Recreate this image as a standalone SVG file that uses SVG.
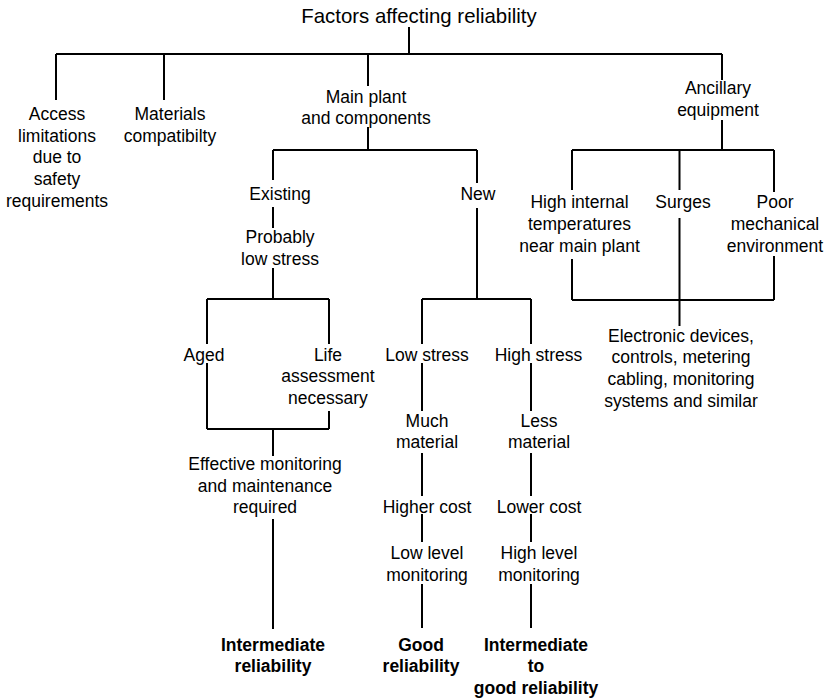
<svg xmlns="http://www.w3.org/2000/svg" width="829" height="699" viewBox="0 0 829 699">
<style>
text{font-family:"Liberation Sans",Arial,sans-serif;font-size:17.5px;fill:#000;text-anchor:middle}
.t{font-size:20.4px}
.b{font-weight:bold}
#connectors path{stroke:#000;stroke-width:2;fill:none}
</style>
<rect width="829" height="699" fill="#fff"/>
<g id="connectors">
<path d="M409,27V54M56,54H722M56,54V100M164,54V100M368,54V86M722,54V80"/>
<path d="M368,127V150M273,150H477M273,150V180M477,150V183"/>
<path d="M273,207V228M273,268V299M207,299H329M207,299V344M329,299V344"/>
<path d="M207,363V429M329,411V429M207,429H329M273,429V456M273,519V629"/>
<path d="M477,208V299M422,299H531M422,299V344M531,299V344"/>
<path d="M422,363V411M531,363V411M422,453V496M531,453V496M422,514V542M531,514V542M422,584V628M531,584V628"/>
<path d="M722,120V150M572,150H774M572,150V190M679.5,150V190M774,150V192M679.5,218V326M572,259V300M774,256V300M572,300H774"/>
</g>
<g id="title"><text class="t" x="419" y="23">Factors affecting reliability</text></g>
<g id="access"><text x="57"><tspan x="57" y="120">Access</tspan><tspan x="57" y="141.7">limitations</tspan><tspan x="57" y="163.3">due to</tspan><tspan x="57" y="185">safety</tspan><tspan x="57" y="206.7">requirements</tspan></text></g>
<g id="materials"><text><tspan x="170" y="120">Materials</tspan><tspan x="170" y="141.7">compatibilty</tspan></text></g>
<g id="main"><text><tspan x="366" y="102.7">Main plant</tspan><tspan x="366" y="124.3">and components</tspan></text></g>
<g id="ancillary"><text><tspan x="718" y="94">Ancillary</tspan><tspan x="718" y="115.7">equipment</tspan></text></g>
<g id="existing"><text x="280" y="200">Existing</text></g>
<g id="new"><text x="478" y="200">New</text></g>
<g id="probably"><text><tspan x="280" y="243.3">Probably</tspan><tspan x="280" y="264.5">low stress</tspan></text></g>
<g id="high-internal"><text><tspan x="579.5" y="208">High internal</tspan><tspan x="579.5" y="230">temperatures</tspan><tspan x="579.5" y="252">near main plant</tspan></text></g>
<g id="surges"><text x="683" y="208">Surges</text></g>
<g id="poor"><text><tspan x="775" y="208">Poor</tspan><tspan x="775" y="230">mechanical</tspan><tspan x="775" y="252">environment</tspan></text></g>
<g id="electronic"><text><tspan x="681" y="341.7">Electronic devices,</tspan><tspan x="681" y="363.3">controls, metering</tspan><tspan x="681" y="385">cabling, monitoring</tspan><tspan x="681" y="406.7">systems and similar</tspan></text></g>
<g id="aged"><text x="204" y="360.7">Aged</text></g>
<g id="life"><text><tspan x="328" y="360.7">Life</tspan><tspan x="328" y="382.3">assessment</tspan><tspan x="328" y="404">necessary</tspan></text></g>
<g id="low-stress"><text x="427" y="360.7">Low stress</text></g>
<g id="high-stress"><text x="538.5" y="360.7">High stress</text></g>
<g id="much"><text><tspan x="427" y="426.7">Much</tspan><tspan x="427" y="448.3">material</tspan></text></g>
<g id="less"><text><tspan x="539" y="426.7">Less</tspan><tspan x="539" y="448.3">material</tspan></text></g>
<g id="effective"><text><tspan x="265" y="470">Effective monitoring</tspan><tspan x="265" y="491.7">and maintenance</tspan><tspan x="265" y="513.3">required</tspan></text></g>
<g id="higher-cost"><text x="427" y="512.7">Higher cost</text></g>
<g id="lower-cost"><text x="539" y="512.7">Lower cost</text></g>
<g id="low-level"><text><tspan x="427" y="559.3">Low level</tspan><tspan x="427" y="581">monitoring</tspan></text></g>
<g id="high-level"><text><tspan x="539" y="559.3">High level</tspan><tspan x="539" y="581">monitoring</tspan></text></g>
<g id="intermediate"><text class="b"><tspan x="273" y="650.7">Intermediate</tspan><tspan x="273" y="672.3">reliability</tspan></text></g>
<g id="good"><text class="b"><tspan x="421" y="650.7">Good</tspan><tspan x="421" y="672.3">reliability</tspan></text></g>
<g id="int-good"><text class="b"><tspan x="536" y="650.7">Intermediate</tspan><tspan x="536" y="672.3">to</tspan><tspan x="536" y="694">good reliability</tspan></text></g>
</svg>
